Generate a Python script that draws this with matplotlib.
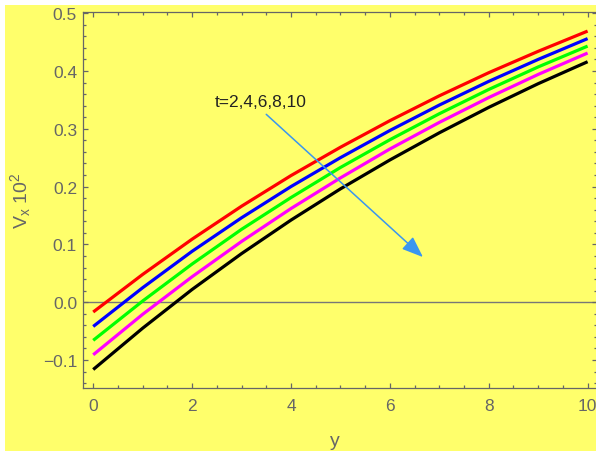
from matplotlib import pyplot as plt
from matplotlib.patches import Rectangle
from matplotlib.ticker import MultipleLocator

plt.rcParams['font.family'] = ['Liberation Sans', 'DejaVu Sans']
plt.rcParams['mathtext.default'] = 'regular'

# values
y = [0, 1, 2, 3, 4, 5, 6, 7, 8, 9, 10]
v_t2 = [-0.017, 0.048, 0.109, 0.166, 0.219, 0.268, 0.314, 0.357, 0.397, 0.434, 0.469]
v_t4 = [-0.042, 0.025, 0.088, 0.146, 0.200, 0.250, 0.297, 0.341, 0.382, 0.420, 0.456]
v_t6 = [-0.066, 0.002, 0.066, 0.126, 0.181, 0.233, 0.281, 0.326, 0.368, 0.407, 0.443]
v_t8 = [-0.091, -0.021, 0.044, 0.105, 0.162, 0.215, 0.265, 0.311, 0.354, 0.394, 0.431]
v_t10 = [-0.1165, -0.045, 0.022, 0.084, 0.142, 0.196, 0.246, 0.293, 0.337, 0.378, 0.416]
series = [v_t2, v_t4, v_t6, v_t8, v_t10]
colors = ['#ff0000', '#0000ff', '#00ff00', '#ff00ff', '#000000']

yellow = '#ffff6b'
gray = '#666666'

fig = plt.figure(figsize=(5.96, 4.52), dpi=100, facecolor='white')
fig.patches.append(Rectangle((5/596, 0), 1, (452-6)/452, transform=fig.transFigure,
                             facecolor=yellow, edgecolor='none', zorder=-10))
ax = fig.add_axes([0.1398, 0.1387, 0.8627, 0.8325])
ax.set_facecolor(yellow)

for s, c in zip(series, colors):
    ax.plot(y, s, color=c, linewidth=2.3, solid_capstyle='butt')

ax.axhline(0, color='#777777', linewidth=1.0, zorder=1)

ax.set_xlim(-0.2, 10.2)
ax.set_ylim(-0.149, 0.502)
ax.xaxis.set_major_locator(MultipleLocator(2))
ax.xaxis.set_minor_locator(MultipleLocator(0.5))
ax.yaxis.set_major_locator(MultipleLocator(0.1))
ax.yaxis.set_minor_locator(MultipleLocator(0.02))
ax.yaxis.set_major_formatter(plt.FuncFormatter(lambda v, p: f'{v:.1f}'.replace('-', '\u2212')))

ax.tick_params(which='both', direction='in', top=True, right=True, color=gray, width=0.9)
ax.tick_params(which='major', length=3.3, labelsize=12.5, labelcolor=gray)
ax.tick_params(which='minor', length=1.9)
ax.tick_params(axis='x', pad=7)
ax.tick_params(axis='y', pad=4.5)
for sp in ax.spines.values():
    sp.set_color(gray)
    sp.set_linewidth(0.9)

ax.set_xlabel('y', fontsize=14, color=gray)
ax.xaxis.set_label_coords(0.49, -0.115)
ax.set_ylabel(r'V$_x$ 10$^2$', fontsize=14, color=gray)
ax.yaxis.set_label_coords(-0.098, 0.5)

ax.text(3.395, 0.347, 't=2,4,6,8,10', ha='center', va='center', fontsize=12.5, color='#222222')
ax.annotate('', xy=(6.67, 0.078), xytext=(3.5, 0.325),
            arrowprops=dict(arrowstyle='-|>,head_length=1.3,head_width=0.5',
                            color='#3a96f0', lw=1.1, shrinkA=0, shrinkB=0))

plt.savefig('out.png', dpi=100, facecolor='white')
